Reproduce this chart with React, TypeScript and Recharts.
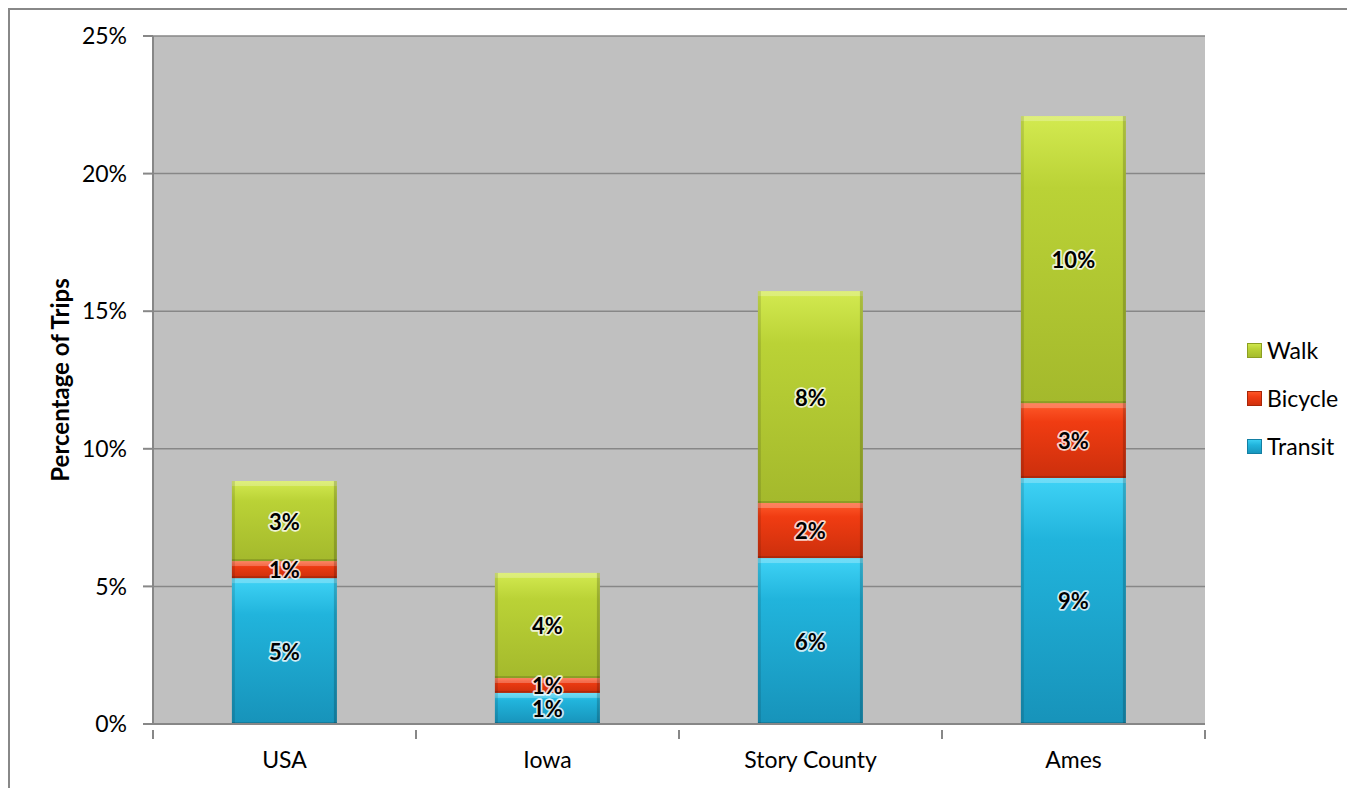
import React from "react";
import {
  BarChart,
  Bar,
  XAxis,
  YAxis,
  CartesianGrid,
  LabelList,
} from "recharts";

const places = ["USA", "Iowa", "Story County", "Ames"];
const transit = [5.3, 1.13, 6.03, 8.94];
const bicycle = [0.62, 0.54, 2.0, 2.72];
const walk = [2.91, 3.82, 7.7, 10.43];
const yTicks = [0, 5, 10, 15, 20, 25];

const SERIES = [
  { key: "transit", name: "Transit", top: "#3fd3f6", mid: "#21b4dc", bottom: "#1793ba", edge: "#137fa3" },
  { key: "bicycle", name: "Bicycle", top: "#ff5a2a", mid: "#f03c12", bottom: "#cc2f0c", edge: "#a82608" },
  { key: "walk", name: "Walk", top: "#d3ea50", mid: "#bad236", bottom: "#a4b92c", edge: "#8c9f22" },
];

const data = places.map((name, i) => ({
  name,
  transit: transit[i],
  bicycle: bicycle[i],
  walk: walk[i],
}));

const FONT = "Lato, 'Open Sans', sans-serif";
const AXIS = "#878787";

function BevelBar(props: any) {
  const { x, y, width, height, id } = props;
  if (!height || height <= 0) return null;
  const hl = Math.min(5, height / 3);
  return (
    <g>
      <rect x={x} y={y} width={width} height={height} fill={`url(#grad-${id})`} />
      <rect x={x} y={y} width={width} height={hl} fill="#ffffff" opacity={0.25} />
      <rect x={x} y={y} width={3} height={height} fill="#000000" opacity={0.12} />
      <rect x={x + width - 3} y={y} width={3} height={height} fill="#000000" opacity={0.18} />
      <rect x={x} y={y + height - 2} width={width} height={2} fill="#000000" opacity={0.15} />
    </g>
  );
}

function SegLabel(props: any) {
  const { x, y, width, height, value } = props;
  const cx = x + width / 2;
  const cy = y + height / 2;
  return (
    <text
      x={cx}
      y={cy}
      textAnchor="middle"
      dominantBaseline="central"
      fontFamily={FONT}
      fontWeight={700}
      fontSize={22}
      fill="#000"
      stroke="#ffffff"
      strokeOpacity={0.8}
      strokeWidth={3.5}
      strokeLinejoin="round"
      style={{ paintOrder: "stroke" }}
    >
      {Math.round(value)}%
    </text>
  );
}

function XTick(props: any) {
  const { x, y, payload, index } = props;
  const half = payload?.offset || 131.5;
  const top = y - 2;
  return (
    <g>
      <line x1={x - half} y1={top} x2={x - half} y2={top + 9} stroke={AXIS} strokeWidth={2} />
      {index === places.length - 1 && (
        <line x1={x + half} y1={top} x2={x + half} y2={top + 9} stroke={AXIS} strokeWidth={2} />
      )}
      <text
        x={x}
        y={top + 29}
        textAnchor="middle"
        dominantBaseline="central"
        fontFamily={FONT}
        fontSize={23}
        fill="#000"
      >
        {payload.value}
      </text>
    </g>
  );
}

function YLabel(props: any) {
  const { viewBox } = props;
  const cx = viewBox.x + 49;
  const cy = viewBox.y + viewBox.height / 2;
  return (
    <text
      x={cx}
      y={cy}
      transform={`rotate(-90, ${cx}, ${cy})`}
      textAnchor="middle"
      dominantBaseline="central"
      fontFamily={FONT}
      fontWeight={700}
      fontSize={24}
      fill="#000"
    >
      Percentage of Trips
    </text>
  );
}

export default function App() {
  const legendOrder = [...SERIES].reverse();
  return (
    <div
      style={{
        position: "relative",
        width: 1345,
        height: 778,
        borderTop: "2px solid #888",
        borderLeft: "2px solid #888",
        background: "#fff",
      }}
    >
      <BarChart
        width={1345}
        height={778}
        data={data}
        barCategoryGap="30%"
        margin={{ top: 26, right: 150, left: 0, bottom: 24 }}
      >
        <defs>
          {SERIES.map((s) => (
            <linearGradient key={s.key} id={`grad-${s.key}`} x1="0" y1="0" x2="0" y2="1">
              <stop offset="0%" stopColor={s.top} />
              <stop offset="25%" stopColor={s.mid} />
              <stop offset="100%" stopColor={s.bottom} />
            </linearGradient>
          ))}
        </defs>
        <CartesianGrid vertical={false} stroke={AXIS} strokeWidth={1.5} fill="#c0c0c0" fillOpacity={1} />
        <XAxis
          dataKey="name"
          height={40}
          axisLine={{ stroke: AXIS, strokeWidth: 2 }}
          tickLine={false}
          tick={<XTick />}
          interval={0}
        />
        <YAxis
          width={143}
          domain={[0, 25]}
          ticks={yTicks}
          tickFormatter={(v) => `${v}%`}
          axisLine={{ stroke: AXIS, strokeWidth: 2 }}
          tickLine={{ stroke: AXIS, strokeWidth: 2 }}
          tickSize={10}
          tickMargin={16}
          tick={{ fontFamily: FONT, fontSize: 23, fill: "#000" }}
          label={<YLabel />}
        />
        {SERIES.map((s) => (
          <Bar
            key={s.key}
            dataKey={s.key}
            name={s.name}
            stackId="a"
            isAnimationActive={false}
            shape={(p: any) => <BevelBar {...p} id={s.key} />}
          >
            <LabelList dataKey={s.key} content={<SegLabel />} />
          </Bar>
        ))}
      </BarChart>
      <div
        style={{
          position: "absolute",
          left: 1237,
          top: 316,
          fontFamily: FONT,
          fontSize: 23,
          color: "#000",
        }}
      >
        {legendOrder.map((s) => (
          <div key={s.key} style={{ display: "flex", alignItems: "center", height: 48 }}>
            <span
              style={{
                width: 15,
                height: 15,
                marginRight: 5,
                background: `linear-gradient(180deg, ${s.top}, ${s.mid} 40%, ${s.bottom})`,
                boxShadow: `inset 0 0 0 1px ${s.edge}`,
              }}
            />
            <span>{s.name}</span>
          </div>
        ))}
      </div>
    </div>
  );
}
